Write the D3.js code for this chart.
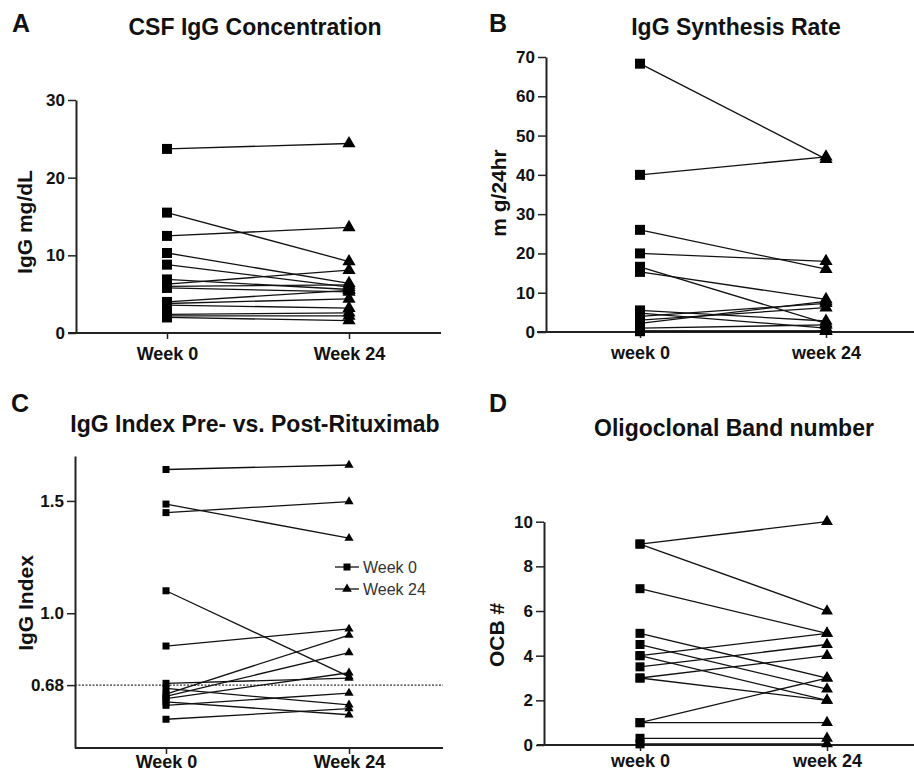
<!DOCTYPE html>
<html>
<head>
<meta charset="utf-8">
<script src="https://cdnjs.cloudflare.com/ajax/libs/d3/7.8.5/d3.min.js"></script>
<style>
  body { margin: 0; background: #fff; }
  svg { display: block; font-family: "Liberation Sans", Arial, sans-serif; }
  .tick text { font-weight: bold; fill: #111; }
  .domain, .tick line { stroke: #222; }
</style>
</head>
<body>
<div id="chart"></div>
<script>
// ---- data ----
var weeksUpper = ["Week 0", "Week 24"];
var weeksLower = ["week 0", "week 24"];

// A: CSF IgG concentration (mg/dL)
var csfWeek0  = [23.7, 15.5, 12.5, 10.3, 8.8, 6.9, 6.3, 6.0, 5.8, 4.0, 3.8, 3.6, 2.4, 2.2, 2.0];
var csfWeek24 = [24.4, 9.2, 13.6, 6.4, 5.9, 5.6, 8.1, 6.2, 5.3, 5.5, 4.4, 3.2, 2.6, 2.2, 1.6];
var csfTicks = [0, 10, 20, 30];

// B: IgG synthesis rate (mg/24hr)
var synWeek0  = [68.3, 40, 26, 20, 16.6, 15.3, 5.5, 4.8, 4.0, 3.0, 2.2, 1.0, 0.3, 0.2];
var synWeek24 = [44.0, 44.6, 16.0, 18.0, 2.2, 8.3, 2.8, 1.0, 7.3, 6.2, 7.8, 1.8, 0.3, 0.2];
var synTicks = [0, 10, 20, 30, 40, 50, 60, 70];

// C: IgG index
var idxWeek0  = [1.64, 1.486, 1.448, 1.10, 0.854, 0.688, 0.665, 0.64, 0.63, 0.62, 0.605, 0.59, 0.528];
var idxWeek24 = [1.66, 1.334, 1.497, 0.718, 0.93, 0.711, 0.592, 0.903, 0.825, 0.735, 0.548, 0.644, 0.575];
var idxTicks = [0.68, 1.0, 1.5];
var idxCutoff = 0.68;

// D: oligoclonal band number
var ocbWeek0  = [9, 9, 7, 5, 4.5, 4, 4, 3.5, 3, 3, 1, 1, 0.3, 0.05];
var ocbWeek24 = [10, 6, 5, 3, 2.5, 5, 2, 4.5, 4, 2, 3, 1, 0.3, 0.05];
var ocbTicks = [0, 2, 4, 6, 8, 10];

var svg = d3.select("#chart").append("svg")
    .attr("width", 914).attr("height", 774);

function drawPanel(p) {
  var g = svg.append("g");
  var y = d3.scaleLinear().domain(p.domain).range([p.y0, p.y1]);
  var x = d3.scalePoint().domain(p.cats).range([p.wx0, p.wx1]);

  // panel letter and title
  g.append("text").attr("x", p.letterX).attr("y", p.letterY)
    .attr("font-size", 25).attr("font-weight", "bold").attr("fill", "#111")
    .text(p.letter);
  g.append("text").attr("x", p.titleX).attr("y", p.titleY)
    .attr("text-anchor", "middle").attr("font-size", 23).attr("font-weight", "bold").attr("fill", "#111")
    .text(p.title);

  // y axis
  var ya = g.append("g").attr("transform", "translate(" + p.ax + ",0)")
    .call(d3.axisLeft(y).tickValues(p.ticks).tickSize(8).tickSizeOuter(0).tickPadding(3)
      .tickFormat(p.fmt || d3.format("d")));
  ya.selectAll(".tick text").attr("font-size", 17);
  ya.select(".domain").attr("stroke-width", 2);
  ya.selectAll(".tick line").attr("stroke-width", 1.5);

  // x axis
  var xa = g.append("g").attr("transform", "translate(0," + p.y0 + ")")
    .call(d3.axisBottom(x).tickSize(6).tickSizeOuter(0).tickPadding(p.xpad));
  xa.select(".domain").attr("d", "M" + p.xl0 + ",0H" + p.xl1).attr("stroke-width", 2);
  xa.selectAll(".tick line").attr("stroke-width", 1.5);
  xa.selectAll(".tick text").attr("font-size", 18);

  // y axis label
  g.append("text")
    .attr("transform", "translate(" + p.labX + "," + p.labY + ") rotate(-90)")
    .attr("text-anchor", "middle").attr("font-size", 21).attr("font-weight", "bold").attr("fill", "#111")
    .text(p.ylab);

  if (p.cutoff !== undefined) {
    g.append("line")
      .attr("x1", p.ax).attr("x2", p.xl1)
      .attr("y1", y(p.cutoff)).attr("y2", y(p.cutoff))
      .attr("stroke", "#333").attr("stroke-width", 1.3).attr("stroke-dasharray", "2,1.5");
  }

  var pairs = p.w0.map(function(v, i) { return [v, p.w24[i]]; });

  g.selectAll("line.pair").data(pairs).join("line")
    .attr("class", "pair")
    .attr("x1", x(p.cats[0])).attr("x2", x(p.cats[1]))
    .attr("y1", function(d) { return y(d[0]); })
    .attr("y2", function(d) { return y(d[1]); })
    .attr("stroke", "#111").attr("stroke-width", 1.3);

  var sq = d3.symbol().type(d3.symbolSquare).size(p.sq * p.sq);
  var tri = d3.symbol().type(d3.symbolTriangle).size(p.sq * p.sq * 0.75);

  g.selectAll("path.w0").data(p.w0).join("path")
    .attr("class", "w0").attr("d", sq).attr("fill", "#000")
    .attr("transform", function(d) { return "translate(" + x(p.cats[0]) + "," + y(d) + ")"; });
  g.selectAll("path.w24").data(p.w24).join("path")
    .attr("class", "w24").attr("d", tri).attr("fill", "#000")
    .attr("transform", function(d) { return "translate(" + x(p.cats[1]) + "," + y(d) + ")"; });

  return g;
}

drawPanel({
  letter: "A", letterX: 12, letterY: 32,
  title: "CSF IgG Concentration", titleX: 255, titleY: 35,
  domain: [0, 30], y0: 333, y1: 100, ticks: csfTicks,
  ax: 76, xl0: 68, xl1: 441, wx0: 167, wx1: 349, cats: weeksUpper, xpad: 8,
  ylab: "IgG mg/dL", labX: 32, labY: 222,
  w0: csfWeek0, w24: csfWeek24, sq: 10
});

drawPanel({
  letter: "B", letterX: 489, letterY: 32,
  title: "IgG Synthesis Rate", titleX: 736, titleY: 35,
  domain: [0, 70], y0: 332, y1: 57, ticks: synTicks,
  ax: 546, xl0: 537, xl1: 914, wx0: 640, wx1: 826, cats: weeksLower, xpad: 8,
  ylab: "m g/24hr", labX: 506, labY: 193,
  w0: synWeek0, w24: synWeek24, sq: 10
});

var c = drawPanel({
  letter: "C", letterX: 11, letterY: 412,
  title: "IgG Index Pre- vs. Post-Rituximab", titleX: 255, titleY: 432,
  domain: [0.4, 1.7], y0: 748, y1: 456, ticks: idxTicks, fmt: function(d) { return d === 0.68 ? "0.68" : d3.format(".1f")(d); },
  ax: 75, xl0: 75, xl1: 443, wx0: 166, wx1: 349, cats: weeksUpper, xpad: 1,
  ylab: "IgG Index", labX: 33, labY: 603, cutoff: idxCutoff,
  w0: idxWeek0, w24: idxWeek24, sq: 7
});

// legend for panel C
var legendItems = [
  { label: "Week 0", sym: d3.symbolSquare },
  { label: "Week 24", sym: d3.symbolTriangle }
];
var lg = c.selectAll("g.legend").data(legendItems).join("g")
  .attr("class", "legend")
  .attr("transform", function(d, i) { return "translate(335," + (567 + i * 22) + ")"; });
lg.append("line").attr("x1", 0).attr("x2", 24).attr("stroke", "#111").attr("stroke-width", 1.3);
lg.append("path").attr("d", function(d) { return d3.symbol().type(d.sym).size(d.sym === d3.symbolSquare ? 49 : 40)(); })
  .attr("transform", "translate(12,0)").attr("fill", "#000");
lg.append("text").attr("x", 28).attr("dy", "0.35em").attr("font-size", 16).attr("fill", "#333")
  .text(function(d) { return d.label; });

drawPanel({
  letter: "D", letterX: 489, letterY: 412,
  title: "Oligoclonal Band number", titleX: 734, titleY: 436,
  domain: [0, 10], y0: 745, y1: 521.7, ticks: ocbTicks,
  ax: 544, xl0: 537, xl1: 914, wx0: 640, wx1: 827, cats: weeksLower, xpad: 3,
  ylab: "OCB #", labX: 504, labY: 635,
  w0: ocbWeek0, w24: ocbWeek24, sq: 9
});
</script>
</body>
</html>
